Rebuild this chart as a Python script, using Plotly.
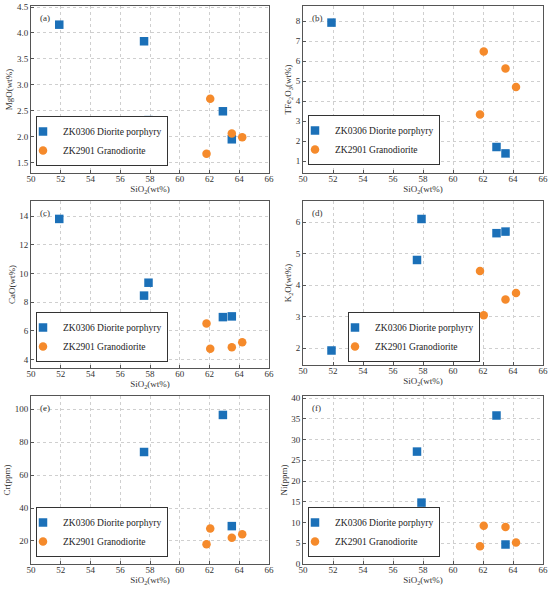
import plotly.graph_objects as go

# SiO2 (wt%) for each sample
dio_sio2 = [51.9, 57.6, 57.9, 62.9, 63.5]
gra_sio2 = [61.8, 62.05, 63.5, 64.2]

# ZK0306 Diorite porphyry
dio_mgo = [4.16, 3.84, 2.32, 2.49, 1.95]
dio_tfe = [7.92, 3.05, 3.05, 1.70, 1.38]
dio_cao = [13.8, 8.45, 9.35, 6.95, 7.0]
dio_k2o = [1.93, 4.8, 6.1, 5.65, 5.7]
dio_cr = [30.5, 74, 34, 96.5, 29]
dio_ni = [12.2, 27.1, 14.8, 35.8, 4.7]

# ZK2901 Granodiorite
gra_mgo = [1.67, 2.73, 2.06, 1.99]
gra_tfe = [3.32, 6.47, 5.63, 4.70]
gra_cao = [6.5, 4.75, 4.85, 5.2]
gra_k2o = [4.45, 3.05, 3.55, 3.75]
gra_cr = [18, 27.5, 22, 24]
gra_ni = [4.3, 9.2, 8.9, 5.2]

W, H = 550, 590
BLUE = '#1b70b8'
ORANGE = '#f58a2b'
FONT = 'Liberation Serif, Times New Roman, serif'

panels = [
    # label, ytitle, dio, gra, yrange, dtick, tickformat, plot box (px), legend (left, bottom px)
    ('(a)', 'MgO(wt%)', dio_mgo, gra_mgo, [1.3, 4.52], 0.5, '.1f', (31, 269, 6, 173), (36, 166)),
    ('(b)', 'TFe<sub>2</sub>O<sub>3</sub>(wt%)', dio_tfe, gra_tfe, [0.4, 8.75], 1, '', (303, 543, 6, 173), (308, 165)),
    ('(c)', 'CaO(wt%)', dio_cao, gra_cao, [3.4, 15.05], 2, '', (31, 269, 201, 368), (36, 362)),
    ('(d)', 'K<sub>2</sub>O(wt%)', dio_k2o, gra_k2o, [1.47, 6.67], 1, '', (303, 543, 201, 365), (348, 362)),
    ('(e)', 'Cr(ppm)', dio_cr, gra_cr, [6, 108], 20, '', (31, 269, 396, 564), (36, 557)),
    ('(f)', 'Ni(ppm)', dio_ni, gra_ni, [0, 40.5], 5, '', (303, 543, 396, 564), (308, 557)),
]

fig = go.Figure()
layout = {}
annotations = []

for i, (lab, ytitle, dv, gv, yr, dt, tf, box, leg) in enumerate(panels):
    n = i + 1
    sfx = '' if n == 1 else str(n)
    lg = 'legend' + sfx
    x0, x1, y0, y1 = box
    fig.add_trace(go.Scatter(x=dio_sio2, y=dv, mode='markers', name='ZK0306 Diorite porphyry',
        marker=dict(symbol='square', size=8.5, color=BLUE), xaxis='x' + sfx, yaxis='y' + sfx,
        legend=lg))
    fig.add_trace(go.Scatter(x=gra_sio2, y=gv, mode='markers', name='ZK2901 Granodiorite',
        marker=dict(symbol='circle', size=8.5, color=ORANGE), xaxis='x' + sfx, yaxis='y' + sfx,
        legend=lg))

    axis_common = dict(showline=True, linecolor='#555', linewidth=1, mirror=True,
        showgrid=True, gridcolor='#cfcfcf', griddash='dot', gridwidth=1,
        ticks='inside', ticklen=3, tickcolor='#555', zeroline=False, automargin=False,
        tickfont=dict(family=FONT, size=9, color='#333'))
    layout['xaxis' + sfx] = dict(axis_common, domain=[x0 / W, x1 / W], range=[50, 66], dtick=2,
        anchor='y' + sfx, ticklabelstandoff=-3,
        title=dict(text='SiO<sub>2</sub>(wt%)', font=dict(family=FONT, size=9, color='#333'), standoff=1))
    layout['yaxis' + sfx] = dict(axis_common, domain=[1 - y1 / H, 1 - y0 / H], range=yr, dtick=dt,
        tickformat=tf, anchor='x' + sfx,
        title=dict(text=ytitle, font=dict(family=FONT, size=9, color='#333'), standoff=2))
    layout[lg] = dict(x=leg[0] / W, y=1 - leg[1] / H, xanchor='left', yanchor='bottom',
        bgcolor='white', bordercolor='#333', borderwidth=1,
        font=dict(family=FONT, size=9.5, color='#222'), itemsizing='trace',
        tracegroupgap=0, indentation=-14)
    annotations.append(dict(text=lab, xref='x' + sfx + ' domain', yref='y' + sfx + ' domain',
        x=0.03, y=0.97, xanchor='left', yanchor='top', showarrow=False,
        font=dict(family=FONT, size=9, color='#333')))

fig.update_layout(**layout)
fig.update_layout(width=W, height=H, margin=dict(l=0, r=0, t=0, b=0),
    paper_bgcolor='white', plot_bgcolor='white', showlegend=True,
    annotations=annotations, font=dict(family=FONT))

fig.write_html('out.html', config={'displayModeBar': False},
    post_script="document.body.style.margin='0';")
